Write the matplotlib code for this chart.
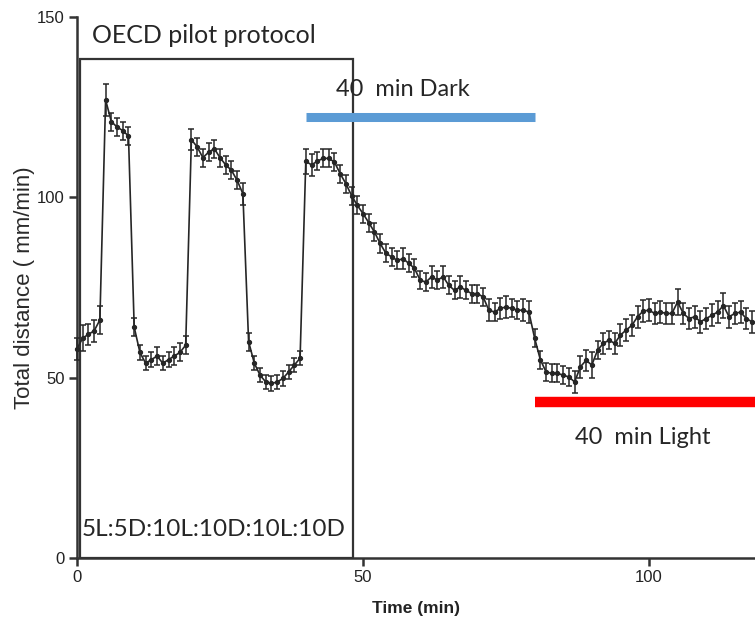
import matplotlib
matplotlib.use("Agg")
import matplotlib.pyplot as plt
from matplotlib.patches import Rectangle

# ---- data ----
time_min = list(range(0, 119))
distance = [
    58, 61, 62, 63, 66,
    127, 121, 119.5, 118.5, 117,
    64, 57, 54, 55, 56, 54, 55, 56, 57, 59,
    116, 114, 111, 112.5, 113.5, 111, 109, 107.5, 104.7, 101,
    60, 54, 50.7, 48.8, 48.4, 48.8, 49.8, 51.6, 53.5, 55.4,
    110, 109, 110, 110.8, 110.8, 109.8, 106.6, 103.8, 100.5, 97.8,
    95.5, 93, 90.4, 87.2, 84.5, 83.5, 82.5, 83, 81.7, 80.3,
    77, 76.5, 78, 77, 78, 75.6, 74.2, 75.2, 74.2, 73.3,
    73.3, 72.4, 68.7, 68.2, 69.2, 69.6, 69.2, 68.7, 68.7, 68.2,
    61, 55, 51.6, 51.2, 51.2, 50.7, 50.2, 48.8, 53, 54.8,
    53.5, 57.6, 59.5, 60.4, 59.5, 61.8, 63.2, 64.5, 66.9, 68.5,
    68.7, 67.8, 68.2, 67.8, 67.8, 71, 67.8, 66.4, 66.9, 65.5,
    66.4, 67.3, 68.2, 70, 66.9, 67.8, 68.2, 66.4, 65.5,
]
sem = [
    3, 3.5, 3, 3, 4,
    4.5, 2.5, 2.5, 2.5, 2.5,
    2.5, 2, 2, 2, 2.5, 2, 2, 2.5, 2.5, 2.5,
    3, 2.5, 2.5, 2.5, 2.5, 2.5, 2.5, 2.5, 2.5, 3,
    2.5, 2, 2, 2, 2, 2, 2, 2, 2, 2,
    3.5, 3, 2.5, 2.5, 2.5, 2.5, 2.5, 2.5, 2.5, 2.5,
    2.5, 2.5, 2.5, 2.5, 2.5, 2.5, 2.5, 3, 2.5, 2.5,
    2.5, 2.5, 3, 2.5, 3, 2.5, 2.5, 3, 2.5, 2.5,
    2.5, 2.5, 3, 2.5, 3, 3, 2.5, 2.5, 3, 3,
    2.5, 2.5, 2.5, 2.5, 2.5, 2.5, 2.5, 3, 3, 3,
    3.5, 2.5, 3, 2.5, 3, 3, 3, 3, 3, 3,
    3, 3, 3, 3, 3, 3.5, 3, 3, 3, 3,
    3, 3, 3, 3.5, 3, 3, 3, 3, 3,
]
x_ticks = [0, 50, 100]
y_ticks = [0, 50, 100, 150]

# annotation elements
protocol_box = (0.5, 48.3, 138.3)     # x0, x1, top
dark_bar = (40, 80, 122.2)             # x0, x1, y
light_bar = (80, 125, 43.3)            # x0, x1, y

W, H = 755, 628
fig = plt.figure(figsize=(W / 100, H / 100), dpi=100)
ax = fig.add_axes([77 / W, (H - 558) / H, (W - 77) / W, (558 - 17) / H])

ink = "#262626"
ax.errorbar(time_min, distance, yerr=sem, color=ink, lw=1.2, marker="o",
            ms=2.8, mfc=ink, mec=ink, ecolor=ink, elinewidth=1.1, capsize=2.4,
            capthick=1.1, zorder=3, clip_on=False)

ax.add_patch(Rectangle((protocol_box[0], 0), protocol_box[1] - protocol_box[0],
                       protocol_box[2], fill=False, ec="#333333", lw=1.6,
                       zorder=2))
ax.plot(dark_bar[:2], [dark_bar[2]] * 2, color="#5B9BD5", lw=6.5,
        solid_capstyle="butt", zorder=2)
ax.plot(light_bar[:2], [light_bar[2]] * 2, color="#FF0000", lw=7.5,
        solid_capstyle="butt", zorder=2, clip_on=False)

tf = "Lato"
ax.text(2.6, 144.8, "OECD pilot protocol", fontsize=18, family=tf,
        color="#262626", va="center", ha="left")
ax.text(0.9, 7.8, "5L:5D:10L:10D:10L:10D", fontsize=17.5, family=tf,
        color="#262626", va="center", ha="left")
ax.text(45.2, 130.0, "40  min Dark", fontsize=17, family=tf,
        color="#262626", va="center", ha="left")
ax.text(87.0, 33.5, "40  min Light", fontsize=17, family=tf,
        color="#262626", va="center", ha="left")

for s in ["top", "right"]:
    ax.spines[s].set_visible(False)
for s in ["left", "bottom"]:
    ax.spines[s].set_linewidth(1.8)
    ax.spines[s].set_color("#333333")

ax.set_xticks(x_ticks)
ax.set_yticks(y_ticks)
ax.set_xlim(0, (W - 77) / 5.72)
ax.set_ylim(0, 150)
ax.tick_params(direction="out", length=6, width=1.8, color="#333333",
               labelsize=12, pad=3)
for lab in ax.get_xticklabels() + ax.get_yticklabels():
    lab.set_family("Liberation Sans")
    lab.set_color("#222222")

ax.set_xlabel("Time (min)", fontsize=12.5, family="Liberation Sans",
              fontweight="bold", color="#222222", labelpad=11)
ax.set_ylabel("Total distance ( mm/min)", fontsize=16, family="Liberation Sans",
              color="#2a2a2a", labelpad=1)

fig.savefig("out.png", dpi=100)
